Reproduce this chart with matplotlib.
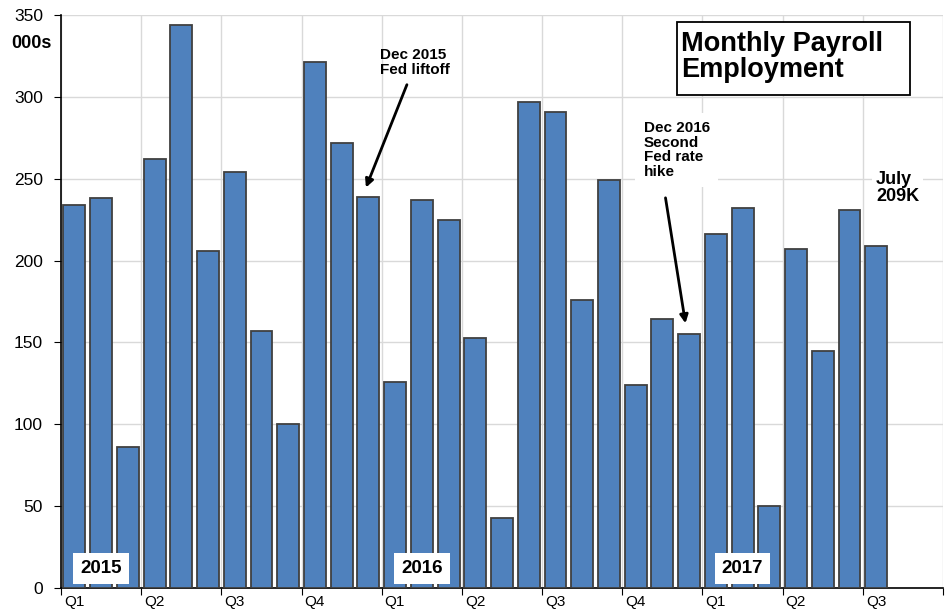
import matplotlib.pyplot as plt
import matplotlib.transforms as mtransforms
from matplotlib.patches import Rectangle
import numpy as np

# Monthly payroll change, thousands (Jan 2015 - Jul 2017)
payrolls = [234, 238, 86, 262, 344, 206, 254, 157, 100, 321, 272, 239,
            126, 237, 225, 153, 43, 297, 291, 176, 249, 124, 164, 155,
            216, 232, 50, 207, 145, 231, 209]
quarter_labels = ['Q1', 'Q2', 'Q3', 'Q4'] * 2 + ['Q1', 'Q2', 'Q3']
years = ['2015', '2016', '2017']
y_ticks = [0, 50, 100, 150, 200, 250, 300, 350]

plt.rcParams['font.family'] = ['Liberation Sans', 'DejaVu Sans']

fig = plt.figure(figsize=(9.49, 6.09), dpi=100)
ax = fig.add_axes([0.0643, 0.0345, 0.9294, 0.9409])

n_slots = 3 * len(quarter_labels)
x = np.arange(len(payrolls)) + 0.5
ax.bar(x, payrolls, width=0.82, color='#4f81bd', edgecolor='#404040',
       linewidth=1.3, zorder=3)

ax.set_xlim(0, n_slots)
ax.set_ylim(0, 350)
ax.set_yticks(y_ticks)
ax.tick_params(axis='y', labelsize=12.5, length=5, direction='out', pad=8)

ax.set_xticks(np.arange(0, n_slots + 1, 3))
ax.set_xticklabels(quarter_labels + [''], ha='left', fontsize=11)
ax.tick_params(axis='x', length=5, direction='out', pad=0)
# shift quarter labels a bit right of the tick
offset = mtransforms.ScaledTranslation(3 / 100, 0, fig.dpi_scale_trans)
for lbl in ax.get_xticklabels():
    lbl.set_transform(lbl.get_transform() + offset)

ax.grid(True, color='#d9d9d9', linewidth=1, zorder=0)
ax.set_axisbelow(True)
for s in ['top', 'right']:
    ax.spines[s].set_visible(False)
ax.spines['left'].set_linewidth(1.2)
ax.spines['bottom'].set_linewidth(1.2)

fig.text(0.012, 0.922, '000s', fontsize=13, fontweight='bold')

# year labels
for i, yr in enumerate(years):
    ax.text(1.5 + 12 * i, 12, yr, fontsize=13.5, fontweight='bold',
            ha='center', va='center', zorder=5,
            bbox=dict(facecolor='white', edgecolor='none', pad=5))

# title box
ax.add_patch(Rectangle((0.698, 0.861), 0.2646, 0.127, transform=ax.transAxes,
                       facecolor='white', edgecolor='black', linewidth=1.3,
                       zorder=5, clip_on=False))
ax.text(0.703, 0.972, 'Monthly Payroll\nEmployment', transform=ax.transAxes,
        fontsize=19.5, fontweight='bold', ha='left', va='top',
        linespacing=1.0, zorder=6)

# annotations
ax.text(11.95, 330, 'Dec 2015\nFed liftoff', fontsize=11,
        fontweight='bold', ha='left', va='top', linespacing=1.15, zorder=5)
ax.annotate('', xy=(11.37, 243), xytext=(12.98, 309),
            arrowprops=dict(arrowstyle='-|>', color='black', lw=2,
                            mutation_scale=12), zorder=6)

ax.text(21.8, 285, 'Dec 2016\nSecond\nFed rate\nhike', fontsize=11,
        fontweight='bold', ha='left', va='top', linespacing=1.05, zorder=5,
        bbox=dict(facecolor='white', edgecolor='none', pad=6))
ax.annotate('', xy=(23.38, 160), xytext=(22.6, 240),
            arrowprops=dict(arrowstyle='-|>', color='black', lw=2,
                            mutation_scale=12), zorder=6)

ax.text(30.5, 255, 'July\n209K', fontsize=13, fontweight='bold',
        ha='left', va='top', linespacing=1.0, zorder=5,
        bbox=dict(facecolor='white', edgecolor='none', pad=3))

fig.savefig('out.png', dpi=100)
